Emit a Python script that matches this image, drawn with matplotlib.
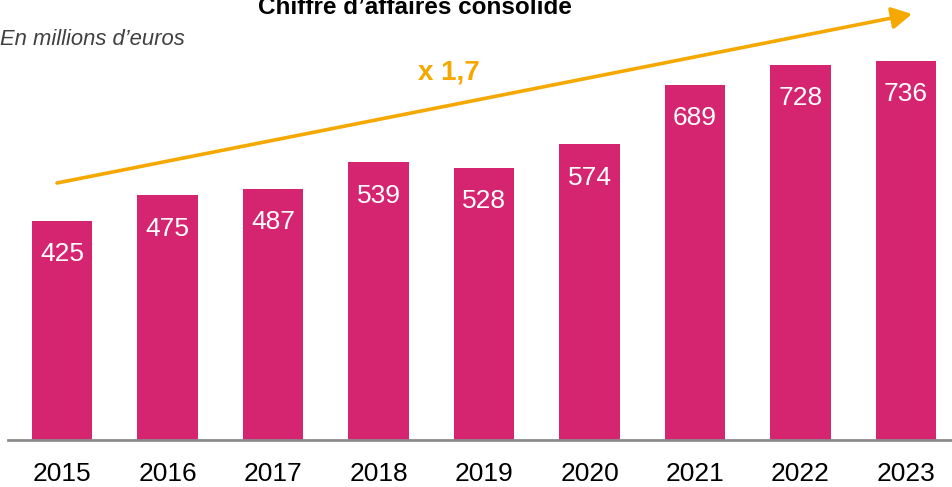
import matplotlib.pyplot as plt

plt.rcParams['font.family'] = ['Liberation Sans', 'DejaVu Sans']

# data
years = ['2015', '2016', '2017', '2018', '2019', '2020', '2021', '2022', '2023']
ca = [425, 475, 487, 539, 528, 574, 689, 728, 736]

bar_color = '#D52571'
orange = '#F5A800'

fig = plt.figure(figsize=(9.52, 4.87), dpi=100)
ax = fig.add_axes([8 / 952, 47 / 487, 944 / 952, 440 / 487])

x = range(len(years))
bars = ax.bar(x, ca, width=0.57, color=bar_color)

# value labels inside the bars
for xi, v in zip(x, ca):
    ax.annotate(str(v), (xi, v), xytext=(0, -24), textcoords='offset points',
                ha='center', va='center', color='white', fontsize=19)

ax.set_xlim(-0.512, 8.436)
ax.set_ylim(0, 854)
ax.set_xticks(list(x))
ax.set_xticklabels(years, fontsize=19)
ax.tick_params(axis='x', length=0, pad=16)
ax.set_yticks([])
for s in ['top', 'right', 'left']:
    ax.spines[s].set_visible(False)
ax.spines['bottom'].set_color('#8C8C8C')
ax.spines['bottom'].set_linewidth(2)

# growth arrow
ax.annotate('', xy=(912, 473), xytext=(57, 304),
            xycoords='figure pixels', textcoords='figure pixels',
            arrowprops=dict(arrowstyle='-|>,head_length=0.55,head_width=0.3',
                            color=orange, lw=2.6,
                            mutation_scale=22, shrinkA=0, shrinkB=0))
fig.text(449 / 952, 408 / 487, 'x 1,7', ha='center', va='baseline',
         color=orange, fontsize=20, fontweight='bold')

fig.text(415 / 952, 473 / 487, "Chiffre d\u2019affaires consolidé", ha='center',
         va='baseline', fontsize=17.5, fontweight='bold', color='black')
fig.text(0, 442 / 487, 'En millions d\u2019euros', ha='left', va='baseline',
         fontsize=15.8, style='italic', color='#404040')

fig.savefig('out.png', dpi=100)
